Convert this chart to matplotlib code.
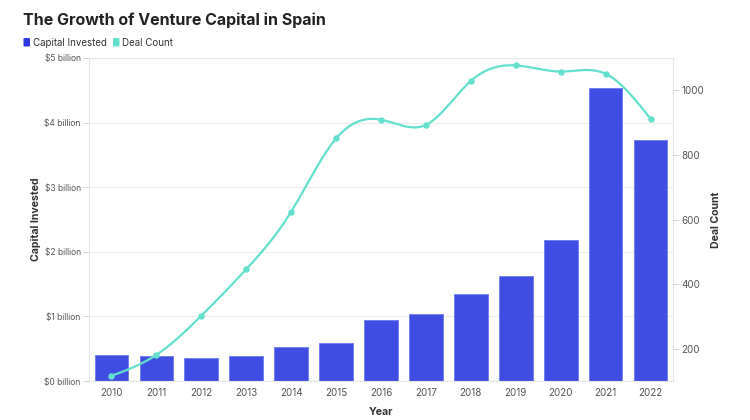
import numpy as np
import matplotlib
matplotlib.use("Agg")
import matplotlib.pyplot as plt
from matplotlib.patches import FancyBboxPatch

years = ["2010", "2011", "2012", "2013", "2014", "2015", "2016",
         "2017", "2018", "2019", "2020", "2021", "2022"]
capital_billion = [0.40, 0.39, 0.36, 0.38, 0.53, 0.59, 0.94,
                   1.04, 1.34, 1.63, 2.18, 4.54, 3.73]
deal_count = [116, 181, 302, 446, 624, 851, 909,
              893, 1029, 1077, 1058, 1051, 912]
left_ticks = [0, 1, 2, 3, 4, 5]
left_labels = ["$0 billion", "$1 billion", "$2 billion", "$3 billion",
               "$4 billion", "$5 billion"]
right_ticks = [200, 400, 600, 800, 1000]

plt.rcParams['font.family'] = ['Inter', 'DejaVu Sans']

BAR = '#404de2'
LINE = '#62e0cc'
GRID = '#ececec'
TICK = '#555555'

fig = plt.figure(figsize=(7.5, 4.2), dpi=100)
fig.patch.set_facecolor('white')
ax = fig.add_axes([89/750, 1-381/420, (673-89)/750, (381-58)/420])

x = np.arange(len(years))
ax.bar(x, capital_billion, width=0.75, color=BAR, edgecolor='#7480ee',
       linewidth=0.7, zorder=2)
ax.set_xlim(-0.5, len(years)-0.5)
ax.set_ylim(0, 5)
ax.set_yticks(left_ticks)
ax.set_yticklabels(left_labels)
ax.set_xticks(x)
ax.set_xticklabels(years)
ax.set_axisbelow(True)
ax.grid(axis='y', color=GRID, linewidth=0.8)
for s in ax.spines.values():
    s.set_color('#e6e6e6')
    s.set_linewidth(0.8)
ax.tick_params(axis='y', labelsize=6.1, colors='#cccccc', labelcolor=TICK,
               length=4, width=0.6, pad=2)
ax.tick_params(axis='x', labelsize=7.1, colors='#cccccc', labelcolor=TICK,
               length=0, pad=5)
ax.set_xlabel("Year", fontsize=7.6, fontweight='bold', color='#333333')
ax.set_ylabel("Capital Invested", fontsize=7.6, fontweight='bold', color='#333333')
ax.xaxis.set_label_coords(0.5, -0.080)
ax.yaxis.set_label_coords(-0.082, 0.5)

# natural cubic spline through the deal counts
y = np.array(deal_count, dtype=float)
n = len(y)
A = np.zeros((n, n))
b = np.zeros(n)
A[0, 0] = 1
A[-1, -1] = 1
for i in range(1, n-1):
    A[i, i-1] = 1
    A[i, i] = 4
    A[i, i+1] = 1
    b[i] = 6*(y[i-1] - 2*y[i] + y[i+1])
M = np.linalg.solve(A, b)
xs, ys = [], []
for i in range(n-1):
    s = np.linspace(0, 1, 40)
    seg = ((1-s)*y[i] + s*y[i+1] + ((1-s)**3 - (1-s))*M[i]/6
           + (s**3 - s)*M[i+1]/6)
    xs.extend(i + s)
    ys.extend(seg)

ax2 = ax.twinx()
ax2.plot(xs, ys, color=LINE, linewidth=1.6, zorder=3, solid_capstyle='round')
ax2.plot(x, deal_count, 'o', color=LINE, markersize=3.6, zorder=4)
ax2.set_ylim(100, 1100)
ax2.set_yticks(right_ticks)
ax2.tick_params(axis='y', labelsize=7.1, colors='#cccccc', labelcolor=TICK,
                length=4, width=0.6, pad=2)
for s in ax2.spines.values():
    s.set_visible(False)
ax2.set_ylabel("Deal Count", fontsize=7.6, fontweight='bold', color='#333333')
ax2.yaxis.set_label_coords(1.065, 0.5)

fig.text(23/750, 1-20/420, "The Growth of Venture Capital in Spain",
         fontsize=11.5, fontweight='bold', color='#222222', va='center', ha='left')

# legend
def legend_item(x0, color, label):
    fig.patches.append(FancyBboxPatch((x0/750, 1-46.5/420), 6.5/750, 8.5/420,
                                      boxstyle="round,pad=0,rounding_size=0.002",
                                      transform=fig.transFigure, facecolor=color,
                                      edgecolor='none'))
    fig.text((x0+9.5)/750, 1-42.5/420, label, fontsize=7.0, color='#333333',
             va='center', ha='left')
legend_item(23.5, '#2c38e4', "Capital Invested")
legend_item(113, LINE, "Deal Count")

fig.savefig("out.png", dpi=100, facecolor='white')
